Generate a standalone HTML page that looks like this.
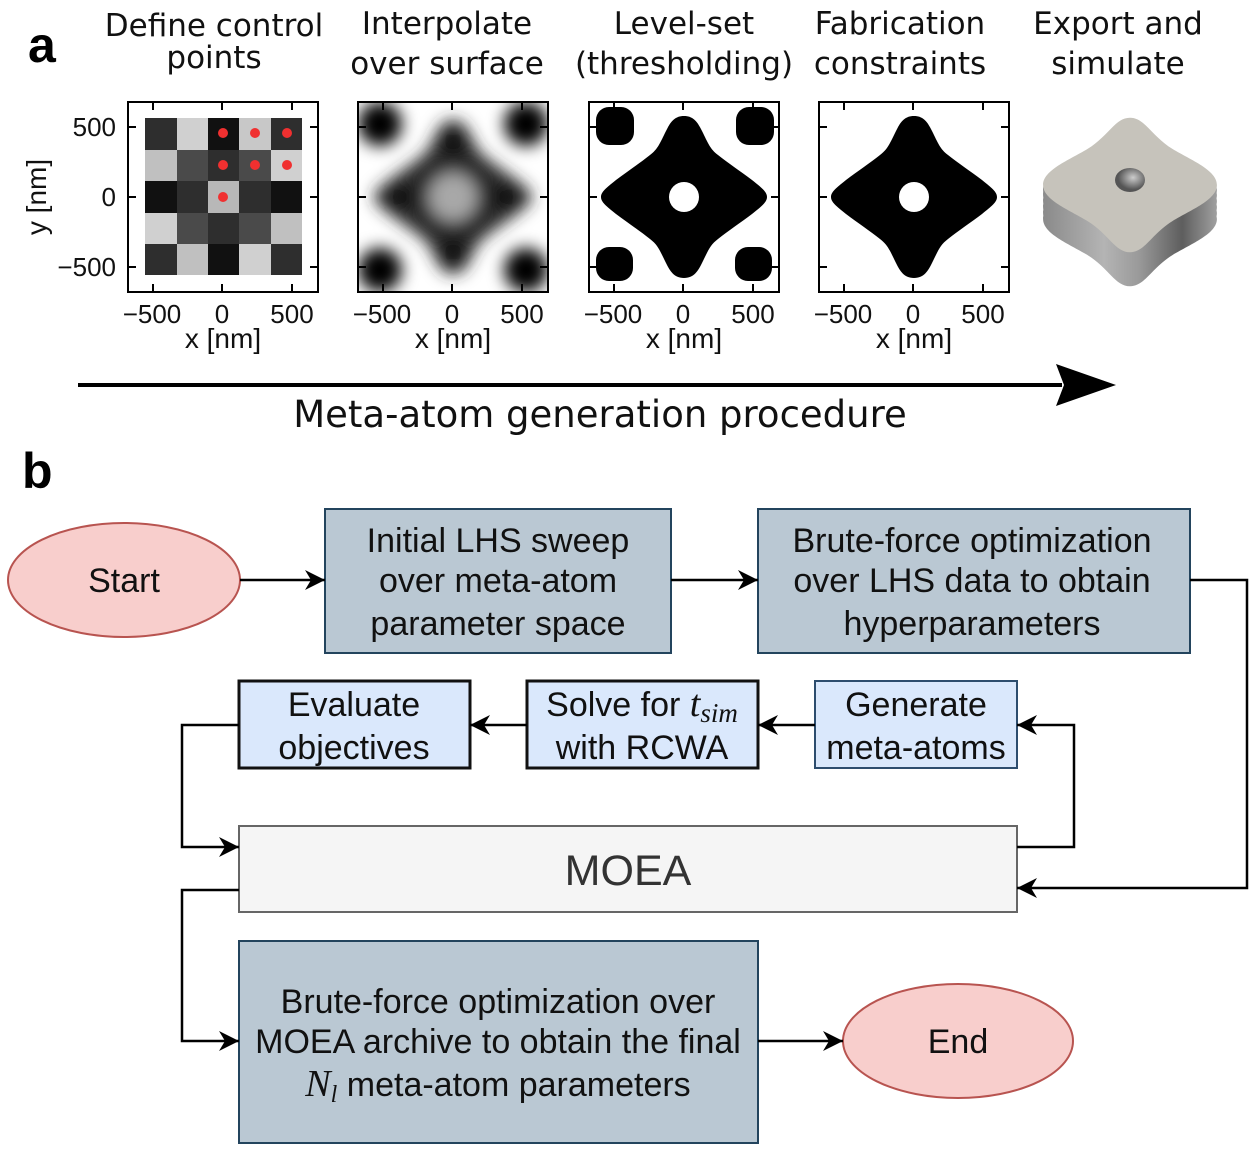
<!DOCTYPE html>
<html><head><meta charset="utf-8"><style>
html,body{margin:0;padding:0;background:#fff;}
svg{display:block;}
.t{font-family:"DejaVu Sans",sans-serif;font-size:31px;fill:#111;text-anchor:middle;}
.k{font-family:"Liberation Sans",sans-serif;font-size:26px;fill:#111;}
.kl{font-family:"Liberation Sans",sans-serif;font-size:28px;fill:#111;}
.f{font-family:"Liberation Sans",sans-serif;font-size:34px;fill:#111;text-anchor:middle;}
</style></head><body>
<svg width="1257" height="1151" viewBox="0 0 1257 1151" xmlns="http://www.w3.org/2000/svg">
<defs>
<path id="star" d="M0,-81 C10,-81 14,-74 18,-66 C24,-54 26,-48 34,-42 C44,-34 56,-26 68,-17 C78,-9 83,-5 83,0 C83,5 78,9 68,17 C56,26 44,34 34,42 C26,48 24,54 18,66 C14,74 10,81 0,81 C-10,81 -14,74 -18,66 C-24,54 -26,48 -34,42 C-44,34 -56,26 -68,17 C-78,9 -83,5 -83,0 C-83,-5 -78,-9 -68,-17 C-56,-26 -44,-34 -34,-42 C-26,-48 -24,-54 -18,-66 C-14,-74 -10,-81 0,-81 Z"/>
<path id="top3d" d="M0,-82 C14,-82 20,-60 40,-44 C58,-30 82,-18 82,0 C82,18 58,30 40,44 C20,60 14,82 0,82 C-14,82 -20,60 -40,44 C-58,30 -82,18 -82,0 C-82,-18 -58,-30 -40,-44 C-20,-60 -14,-82 0,-82Z"/>
<filter id="bl" x="-20%" y="-20%" width="140%" height="140%"><feGaussianBlur stdDeviation="8"/></filter>
<clipPath id="c2"><rect x="359" y="103" width="188" height="188"/></clipPath>
<linearGradient id="side" x1="0" x2="1" y1="0" y2="0"><stop offset="0" stop-color="#8a8a8a"/><stop offset="0.35" stop-color="#b4b4b4"/><stop offset="0.55" stop-color="#9a9a9a"/><stop offset="0.8" stop-color="#5e5e5e"/><stop offset="1" stop-color="#a0a0a0"/></linearGradient>
<radialGradient id="hole" cx="0.6" cy="0.4"><stop offset="0" stop-color="#ccc"/><stop offset="1" stop-color="#555"/></radialGradient>
<marker id="ar" viewBox="0 0 10 10" refX="10" refY="5" markerWidth="20" markerHeight="20" markerUnits="userSpaceOnUse" orient="auto"><path d="M0,0 L10,5 L0,10 L3,5 Z" fill="#000"/></marker>
</defs>

<text x="28" y="62" style="font-family:'Liberation Sans',sans-serif;font-weight:bold;font-size:50px;fill:#000">a</text>
<text x="22" y="488" style="font-family:'Liberation Sans',sans-serif;font-weight:bold;font-size:50px;fill:#000">b</text>

<text class="t" x="214" y="36">Define control</text><text class="t" x="214" y="68">points</text>
<text class="t" x="447" y="34">Interpolate</text><text class="t" x="447" y="74">over surface</text>
<text class="t" x="684" y="34">Level-set</text><text class="t" x="684" y="74">(thresholding)</text>
<text class="t" x="900" y="34">Fabrication</text><text class="t" x="900" y="74">constraints</text>
<text class="t" x="1118" y="34">Export and</text><text class="t" x="1118" y="74">simulate</text>

<!-- panel 1 -->
<g>
<rect x="145" y="118" width="32" height="32" fill="#2e2e2e"/><rect x="177" y="118" width="31" height="32" fill="#d0d0d0"/><rect x="208" y="118" width="31" height="32" fill="#111"/><rect x="239" y="118" width="32" height="32" fill="#c8c8c8"/><rect x="271" y="118" width="31" height="32" fill="#2e2e2e"/>
<rect x="145" y="150" width="32" height="31" fill="#c0c0c0"/><rect x="177" y="150" width="31" height="31" fill="#4a4a4a"/><rect x="208" y="150" width="31" height="31" fill="#2e2e2e"/><rect x="239" y="150" width="32" height="31" fill="#4a4a4a"/><rect x="271" y="150" width="31" height="31" fill="#d0d0d0"/>
<rect x="145" y="181" width="32" height="32" fill="#111"/><rect x="177" y="181" width="31" height="32" fill="#2e2e2e"/><rect x="208" y="181" width="31" height="32" fill="#b8b8b8"/><rect x="239" y="181" width="32" height="32" fill="#2e2e2e"/><rect x="271" y="181" width="31" height="32" fill="#111"/>
<rect x="145" y="213" width="32" height="31" fill="#d0d0d0"/><rect x="177" y="213" width="31" height="31" fill="#4a4a4a"/><rect x="208" y="213" width="31" height="31" fill="#2e2e2e"/><rect x="239" y="213" width="32" height="31" fill="#4a4a4a"/><rect x="271" y="213" width="31" height="31" fill="#c0c0c0"/>
<rect x="145" y="244" width="32" height="31" fill="#2e2e2e"/><rect x="177" y="244" width="31" height="31" fill="#c0c0c0"/><rect x="208" y="244" width="31" height="31" fill="#111"/><rect x="239" y="244" width="32" height="31" fill="#d0d0d0"/><rect x="271" y="244" width="31" height="31" fill="#2e2e2e"/>
<g fill="#f03030"><circle cx="223" cy="133" r="5"/><circle cx="255" cy="133" r="5"/><circle cx="287" cy="133" r="5"/><circle cx="223" cy="165" r="5"/><circle cx="255" cy="165" r="5"/><circle cx="287" cy="165" r="5"/><circle cx="223" cy="197" r="5"/></g>
</g>

<!-- panel 2 blurred -->
<g clip-path="url(#c2)">
<rect x="359" y="103" width="188" height="188" fill="#fff"/>
<g filter="url(#bl)">
<use href="#star" transform="translate(453,197) scale(0.95)" fill="#2a2a2a"/>
<circle cx="453" cy="143" r="12" fill="#000"/><circle cx="453" cy="251" r="12" fill="#000"/>
<circle cx="400" cy="197" r="12" fill="#000"/><circle cx="506" cy="197" r="12" fill="#000"/>
<circle cx="453" cy="197" r="24" fill="#a8a8a8"/>
<circle cx="380" cy="124" r="22" fill="#000"/><circle cx="526" cy="124" r="22" fill="#000"/>
<circle cx="380" cy="270" r="22" fill="#000"/><circle cx="526" cy="270" r="22" fill="#000"/>
</g>
</g>

<!-- panel 3 -->
<use href="#star" transform="translate(684,197)" fill="#000"/>
<circle cx="684" cy="197" r="15" fill="#fff"/>
<rect x="596" y="107" width="38" height="38" rx="13" fill="#000"/><rect x="736" y="107" width="38" height="38" rx="13" fill="#000"/>
<rect x="596" y="247" width="37" height="34" rx="13" fill="#000"/><rect x="735" y="247" width="37" height="34" rx="13" fill="#000"/>
<!-- panel 4 -->
<use href="#star" transform="translate(914,197)" fill="#000"/>
<circle cx="914" cy="197" r="15" fill="#fff"/>

<!-- frames & ticks -->
<g fill="none" stroke="#000" stroke-width="2">
<rect x="128" y="102" width="190" height="190"/><rect x="358" y="102" width="190" height="190"/><rect x="589" y="102" width="190" height="190"/><rect x="819" y="102" width="190" height="190"/>
<path d="M153,103v7M222,103v7M292,103v7M153,291v-7M222,291v-7M292,291v-7M129,127h7M129,197h7M129,267h7M317,127h-7M317,197h-7M317,267h-7"/>
<path d="M383,103v7M452,103v7M522,103v7M383,291v-7M452,291v-7M522,291v-7M359,127h7M359,197h7M359,267h7M547,127h-7M547,197h-7M547,267h-7"/>
<path d="M614,103v7M683,103v7M753,103v7M614,291v-7M683,291v-7M753,291v-7M590,127h7M590,197h7M590,267h7M778,127h-7M778,197h-7M778,267h-7"/>
<path d="M844,103v7M913,103v7M983,103v7M844,291v-7M913,291v-7M983,291v-7M820,127h7M820,197h7M820,267h7M1008,127h-7M1008,197h-7M1008,267h-7"/>
</g>
<g class="k" text-anchor="end">
<text x="116" y="136">500</text><text x="116" y="206">0</text><text x="116" y="276">−500</text>
</g>
<text class="kl" transform="translate(46,197) rotate(-90)" text-anchor="middle">y [nm]</text>
<g class="k" text-anchor="middle">
<text x="152" y="323">−500</text><text x="222" y="323">0</text><text x="292" y="323">500</text>
<text x="382" y="323">−500</text><text x="452" y="323">0</text><text x="522" y="323">500</text>
<text x="613" y="323">−500</text><text x="683" y="323">0</text><text x="753" y="323">500</text>
<text x="843" y="323">−500</text><text x="913" y="323">0</text><text x="983" y="323">500</text>
</g>
<g class="kl" text-anchor="middle">
<text x="223" y="348">x [nm]</text><text x="453" y="348">x [nm]</text><text x="684" y="348">x [nm]</text><text x="914" y="348">x [nm]</text>
</g>

<!-- 3D -->
<g transform="translate(1130,185)">
<use href="#top3d" transform="translate(0,34) scale(1.06,0.82)" fill="url(#side)"/>
<use href="#top3d" transform="translate(0,28) scale(1.06,0.82)" fill="url(#side)"/>
<use href="#top3d" transform="translate(0,22) scale(1.06,0.82)" fill="url(#side)"/>
<use href="#top3d" transform="translate(0,16) scale(1.06,0.82)" fill="url(#side)"/>
<use href="#top3d" transform="translate(0,10) scale(1.06,0.82)" fill="url(#side)"/>
<use href="#top3d" transform="translate(0,5) scale(1.06,0.82)" fill="url(#side)"/>
<use href="#top3d" transform="scale(1.06,0.82)" fill="#c6c3bb"/>
<ellipse cx="0" cy="-5" rx="15" ry="12" fill="url(#hole)"/>
</g>

<!-- big arrow -->
<line x1="78" y1="385" x2="1062" y2="385" stroke="#000" stroke-width="4"/>
<path d="M1056,364 L1116,385 L1056,406 L1064,385 Z" fill="#000"/>
<text x="600" y="427" style="font-family:'DejaVu Sans',sans-serif;font-size:37px;fill:#111" text-anchor="middle">Meta-atom generation procedure</text>

<!-- flowchart -->
<ellipse cx="124" cy="580" rx="116" ry="57" fill="#f8cecc" stroke="#b85450" stroke-width="2"/>
<text class="f" x="124" y="592">Start</text>
<rect x="325" y="509" width="346" height="144" fill="#bac8d3" stroke="#23445d" stroke-width="2"/>
<text class="f" x="498" y="552">Initial LHS sweep</text><text class="f" x="498" y="592">over meta-atom</text><text class="f" x="498" y="635">parameter space</text>
<rect x="758" y="509" width="432" height="144" fill="#bac8d3" stroke="#23445d" stroke-width="2"/>
<text class="f" x="972" y="552">Brute-force optimization</text><text class="f" x="972" y="592">over LHS data to obtain</text><text class="f" x="972" y="635">hyperparameters</text>
<rect x="239" y="681" width="231" height="87" fill="#dae8fc" stroke="#111" stroke-width="3"/>
<text class="f" x="354" y="716">Evaluate</text><text class="f" x="354" y="759">objectives</text>
<rect x="527" y="681" width="231" height="87" fill="#dae8fc" stroke="#111" stroke-width="3"/>
<text class="f" x="642" y="716">Solve for <tspan style="font-family:'Liberation Serif',serif;font-style:italic;font-size:38px">t</tspan><tspan style="font-family:'Liberation Serif',serif;font-style:italic;font-size:27px" dy="6">sim</tspan></text><text class="f" x="642" y="759">with RCWA</text>
<rect x="815" y="681" width="202" height="87" fill="#dae8fc" stroke="#2d4d6e" stroke-width="2"/>
<text class="f" x="916" y="716">Generate</text><text class="f" x="916" y="759">meta-atoms</text>
<rect x="239" y="826" width="778" height="86" fill="#f5f5f5" stroke="#666" stroke-width="2"/>
<text class="f" x="628" y="885" style="font-size:43px;fill:#333">MOEA</text>
<rect x="239" y="941" width="519" height="202" fill="#bac8d3" stroke="#23445d" stroke-width="2"/>
<text class="f" x="498" y="1013">Brute-force optimization over</text><text class="f" x="498" y="1053">MOEA archive to obtain the final</text>
<text class="f" x="498" y="1096"><tspan style="font-family:'Liberation Serif',serif;font-style:italic;font-size:38px">N</tspan><tspan style="font-family:'Liberation Serif',serif;font-style:italic;font-size:24px" dy="6">l</tspan><tspan dy="-6"> meta-atom parameters</tspan></text>
<ellipse cx="958" cy="1041" rx="115" ry="57" fill="#f8cecc" stroke="#b85450" stroke-width="2"/>
<text class="f" x="958" y="1053">End</text>

<g fill="none" stroke="#000" stroke-width="2.5">
<path d="M240,580 H325" marker-end="url(#ar)"/>
<path d="M671,580 H758" marker-end="url(#ar)"/>
<path d="M1190,580 H1247 V888 H1017" marker-end="url(#ar)"/>
<path d="M1017,847 H1074 V725 H1017" marker-end="url(#ar)"/>
<path d="M815,725 H758" marker-end="url(#ar)"/>
<path d="M527,725 H470" marker-end="url(#ar)"/>
<path d="M239,725 H182 V847 H239" marker-end="url(#ar)"/>
<path d="M239,890 H182 V1041 H239" marker-end="url(#ar)"/>
<path d="M758,1041 H843" marker-end="url(#ar)"/>
</g>
</svg>
</body></html>
